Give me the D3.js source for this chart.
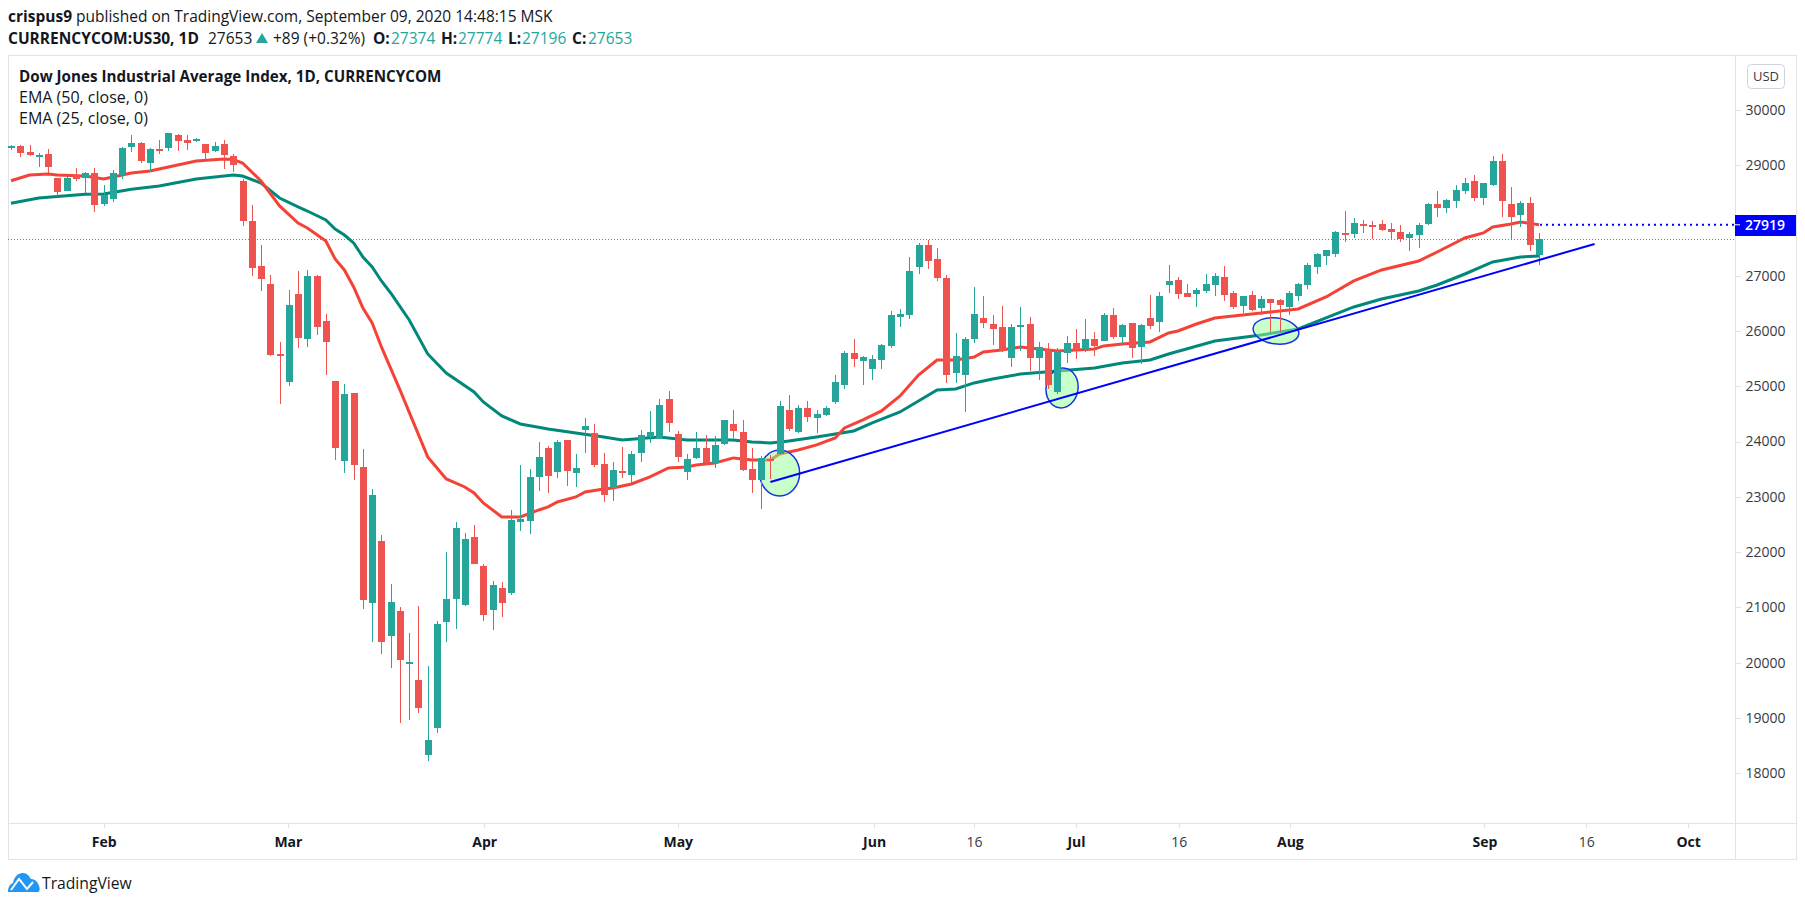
<!DOCTYPE html>
<html>
<head>
<meta charset="utf-8">
<script src="https://d3js.org/d3.v7.min.js"></script>
<style>
body { margin: 0; background: #fff; }
svg { display: block; }
text { font-family: "Open Sans", sans-serif; fill: #131722; }
.frame { fill: none; stroke: #e0e3eb; stroke-width: 1; shape-rendering: crispEdges; }
.axis .domain { display: none; }
.axis line { stroke: #e0e3eb; shape-rendering: crispEdges; }
.axis text { font-size: 14px; fill: #363a45; }
.time .major { font-weight: 700; fill: #131722; }
.wick, .body { shape-rendering: crispEdges; }
</style>
</head>
<body>
<svg id="chart" width="1805" height="906"></svg>
<script>
// daily candles, oldest first
var open = [29313,29343,29235,29150,29199,28765,28530,28819,28770,28855,28300,28391,28819,29331,29398,29036,29289,29313,29542,29452,29447,29380,29253,29380,29163,28711,27987,27174,26848,25583,25077,26668,25854,26993,26180,25095,23648,24878,23540,21081,22202,20484,20936,19978,19689,18333,18821,20737,21153,21045,22274,21750,20954,21352,21262,22545,22563,23359,23883,23449,24028,23431,24209,24155,23594,23160,23467,23395,23793,24082,24064,24769,24136,23449,23703,23883,23612,23956,24317,24173,23504,23305,23690,23775,24570,24173,24606,24426,24480,24715,25022,25601,25456,25312,25474,25728,26252,26288,27156,27554,27300,26957,25239,25203,25854,26234,26125,26071,25510,26071,26125,25510,25673,24896,25601,25782,25673,25854,25818,26288,25890,26143,25709,26234,26161,26830,26921,26686,26668,26722,26830,26975,26686,26451,26650,26415,26577,26559,26433,26632,26830,27156,27355,27391,27771,27752,27933,27915,27933,27843,27789,27680,27734,27933,28295,28223,28349,28530,28711,28403,28638,29072,28295,28096,28313,27374];
var high = [29362,29362,29362,29211,29289,28765,28837,28946,28879,28946,28638,28910,29325,29542,29416,29307,29452,29579,29560,29542,29494,29380,29416,29452,29199,28747,28277,27554,27011,25800,26740,27084,27102,27011,26306,25095,25040,24878,23865,23142,22310,21424,21009,20539,21027,19942,20755,22003,22545,22346,22491,21786,21479,21461,22762,23576,23504,23992,23919,24028,24028,23775,24426,24317,23793,23630,23901,23829,24209,24552,24769,24914,24191,23775,24173,24118,24100,24390,24570,24390,23883,23739,23757,24733,24842,24661,24733,24570,24643,25203,25637,25854,25547,25565,25764,26360,26396,27337,27590,27644,27499,27011,25962,25890,26794,26632,26288,26451,26125,26433,26252,25800,25782,25691,25908,26035,26216,25981,26324,26415,26125,26143,26125,26650,26704,27192,26975,26848,26776,27029,27047,27174,26722,26632,26722,26632,26577,26577,26722,26866,27228,27409,27463,27807,28168,28042,28006,27987,28006,27951,27915,27789,27951,28313,28530,28385,28638,28765,28819,28675,29163,29199,28602,28349,28421,27774];
var low = [29271,29145,29168,28970,28850,28445,28530,28716,28488,28150,28264,28337,28752,29240,29036,28873,29199,29259,29259,29271,29416,29108,29235,28928,28873,27897,26993,26722,25547,24679,25004,25691,25709,25926,25203,23666,23431,23305,20972,20376,20159,19906,18911,18966,19092,18224,18731,20376,20611,21027,21786,20755,20593,20828,21226,22383,22328,23106,23070,23341,23196,23178,23793,23540,22907,22925,23341,23250,23630,23974,24064,24173,23630,23305,23684,23576,23522,23938,24064,23467,23070,22780,23323,23775,24191,24155,24353,24155,24462,24679,24950,25348,25022,25113,25312,25691,26071,26216,27029,27120,26903,25059,25059,24534,25782,26053,25746,25619,25348,25637,25276,25113,24950,24860,25420,25492,25619,25547,25818,25854,25764,25510,25402,26035,25981,26686,26577,26613,26433,26686,26632,26541,26396,26324,26360,26288,25981,25981,26288,26541,26758,27029,27192,27337,27608,27680,27771,27662,27807,27644,27608,27445,27499,27915,28060,28132,28223,28476,28349,28277,28620,28060,27662,27879,27445,27196];
var close = [29349,29217,29181,29186,28970,28518,28765,28747,28855,28282,28458,28855,29307,29398,29072,29289,29271,29579,29439,29403,29465,29217,29343,29186,29000,27987,27143,26939,25565,25547,26469,25872,26993,26071,25800,23883,24860,23576,21135,23034,20376,21099,20050,20014,19183,18604,20701,21153,22437,22238,21786,20864,21406,21081,22582,22600,23359,23721,23377,23992,23467,23522,24281,23576,23034,23486,23440,23775,24118,24173,24661,24335,23721,23684,23883,23612,23938,24390,24191,23486,23305,23703,23666,24643,24227,24606,24444,24498,24606,25077,25601,25492,25528,25492,25746,26288,26306,27084,27554,27264,26957,25203,25547,25854,26306,26143,26035,25637,26071,26107,25510,25709,25022,25637,25782,25655,25854,25728,26288,25890,26107,25691,26107,26089,26632,26903,26668,26613,26740,26848,26993,26650,26433,26632,26378,26577,26505,26469,26686,26848,27192,27391,27463,27789,27752,27951,27897,27879,27825,27789,27662,27752,27915,28295,28223,28367,28548,28675,28403,28675,29072,28349,28060,28313,27554,27653];

// moving averages, read at the bars where the curves bend
var ema25Bars = [0,2,4,5,8,10,11,13,15,17,20,23,24,25,27,29,31,32,34,35,36,37,38,39,40,42,45,47,49,50,51,53,55,57,58,59,61,62,64,65,67,69,71,73,74,76,78,80,82,83,85,87,89,90,92,94,96,98,100,102,104,105,107,109,111,113,115,117,118,120,123,125,126,128,130,133,136,139,142,145,148,152,154,157,159,160,162,163,165];
var ema25Values = [28716,28819,28837,28819,28801,28747,28783,28855,28892,28964,29072,29108,29099,29036,28711,28259,27951,27861,27626,27300,27102,26794,26415,26143,25710,24932,23721,23323,23178,23070,22889,22636,22636,22762,22817,22907,22997,23088,23142,23160,23232,23359,23522,23540,23576,23612,23703,23666,23666,23775,23847,23938,24064,24245,24390,24552,24824,25203,25474,25474,25528,25619,25655,25709,25673,25637,25655,25673,25728,25764,25800,25962,25999,26125,26234,26288,26342,26396,26613,26903,27102,27264,27427,27680,27771,27879,27933,27969,27919];
var ema50Bars = [0,3,8,10,13,16,20,24,25,27,29,31,32,34,35,36,37,38,39,40,41,43,45,47,50,51,53,55,58,61,64,66,70,73,78,80,82,84,87,89,91,93,96,100,102,104,106,109,113,117,120,123,125,130,135,139,142,145,148,152,154,157,160,163,165];
var ema50Values = [28307,28403,28470,28476,28561,28620,28747,28819,28801,28675,28403,28241,28168,28006,27843,27734,27590,27337,27156,26903,26686,26198,25583,25239,24896,24715,24462,24317,24227,24155,24082,24028,24082,24028,24028,23992,23974,24010,24082,24136,24191,24335,24534,24932,24950,25059,25131,25221,25276,25330,25420,25474,25583,25818,25926,26035,26234,26433,26577,26722,26830,27029,27246,27337,27355];

// drawn trend line and the three marked touches
var trendBars = [82,171];
var trendPrices = [23269,27572];
var touchBars = [83,113.5,136.6];
var touchPrices = [23431,24968,25999];

var priceTicks = [18000,19000,20000,21000,22000,23000,24000,25000,26000,27000,29000,30000];
var timeTickBars = [10,29.9,51.1,72,93.2,104,115,126.1,138.1,159.1,170.1,181.1];
var timeTickLabels = ["Feb","Mar","Apr","May","Jun","16","Jul","16","Aug","Sep","16","Oct"];

var lastClose = 27653;
var ema25Last = 27919;

var plotLeft = 8, plotRight = 1735, plotTop = 55, plotBottom = 823;

var svg = d3.select("#chart");
var x = d3.scaleLinear().domain([0,165]).range([11,1539]);
var y = d3.scaleLinear().domain([18000,30000]).range([773.3,109.7]);

var up = "#26a69a", down = "#ef5350";

svg.append("defs").append("clipPath").attr("id","plot")
  .append("rect").attr("x",plotLeft).attr("y",plotTop).attr("width",plotRight-plotLeft).attr("height",plotBottom-plotTop);

// frame
svg.append("rect").attr("class","frame").attr("x",plotLeft+.5).attr("y",plotTop+.5).attr("width",1796-plotLeft).attr("height",859-plotTop);
svg.append("line").attr("class","frame").attr("x1",plotRight+.5).attr("x2",plotRight+.5).attr("y1",plotTop).attr("y2",859);
svg.append("line").attr("class","frame").attr("x1",plotLeft).attr("x2",1796).attr("y1",plotBottom+.5).attr("y2",plotBottom+.5);

var plot = svg.append("g").attr("clip-path","url(#plot)");

// last price line
plot.append("line").attr("x1",plotLeft).attr("x2",plotRight)
  .attr("y1",y(lastClose)).attr("y2",y(lastClose))
  .attr("stroke",up).attr("stroke-width",1).attr("stroke-dasharray","1 2");

var line = d3.line().x(function(d){ return x(d[0]); }).y(function(d){ return y(d[1]); });

plot.append("path").datum(d3.zip(ema50Bars,ema50Values)).attr("d",line)
  .attr("fill","none").attr("stroke","#00897b").attr("stroke-width",3);
plot.append("path").datum(d3.zip(ema25Bars,ema25Values)).attr("d",line)
  .attr("fill","none").attr("stroke","#f44336").attr("stroke-width",3);

// touch markers sit over the averages but under the candles
var touchSize = [[20,23,0],[16,20,8],[23,13,8]];
plot.selectAll(".touch").data(d3.zip(touchBars,touchPrices,touchSize)).enter().append("ellipse")
  .attr("class","touch")
  .attr("rx",function(d){ return d[2][0]; })
  .attr("ry",function(d){ return d[2][1]; })
  .attr("transform",function(d){ return "translate("+x(d[0])+","+y(d[1])+") rotate("+d[2][2]+")"; })
  .attr("fill","rgba(147,255,147,.5)").attr("stroke","#1a35e0").attr("stroke-width",1.5);

// candles
var bars = d3.range(open.length);
plot.selectAll(".wick").data(bars).enter().append("rect")
  .attr("class","wick")
  .attr("x",function(i){ return Math.round(x(i)); })
  .attr("width",1)
  .attr("y",function(i){ return y(high[i]); })
  .attr("height",function(i){ return y(low[i])-y(high[i]); })
  .attr("fill",function(i){ return close[i]>=open[i] ? up : down; });
plot.selectAll(".body").data(bars).enter().append("rect")
  .attr("class","body")
  .attr("x",function(i){ return Math.round(x(i))-3; })
  .attr("width",7)
  .attr("y",function(i){ return y(Math.max(open[i],close[i])); })
  .attr("height",function(i){ return Math.max(2,Math.abs(y(open[i])-y(close[i]))); })
  .attr("fill",function(i){ return close[i]>=open[i] ? up : down; });

// trend line
plot.append("path").datum(d3.zip(trendBars,trendPrices)).attr("d",line)
  .attr("fill","none").attr("stroke","#0000ff").attr("stroke-width",2);

// EMA 25 last value line
svg.append("line").attr("x1",x(165)+1).attr("x2",plotRight)
  .attr("y1",y(ema25Last)).attr("y2",y(ema25Last))
  .attr("stroke","#0000ff").attr("stroke-width",2).attr("stroke-dasharray","2 4");

// axes
var priceAxis = d3.axisRight(y).tickValues(priceTicks).tickSize(5).tickPadding(5).tickFormat(d3.format("d"));
svg.append("g").attr("class","axis price").attr("transform","translate("+(plotRight+.5)+",0)").call(priceAxis);

var timeAxis = d3.axisBottom(x).tickValues(timeTickBars).tickSize(4).tickPadding(10)
  .tickFormat(function(d,i){ return timeTickLabels[i]; });
var timeG = svg.append("g").attr("class","axis time").attr("transform","translate(0,"+(plotBottom+.5)+")").call(timeAxis);
timeG.selectAll("text").classed("major",function(d,i){ return timeTickLabels[i] != "16"; });

// blue price label
svg.append("rect").attr("x",plotRight).attr("y",215).attr("width",61).attr("height",21).attr("fill","#0000ff");
svg.append("line").attr("x1",plotRight).attr("x2",plotRight+5).attr("y1",y(ema25Last)).attr("y2",y(ema25Last)).attr("stroke","#fff");
svg.append("text").attr("x",plotRight+10).attr("y",y(ema25Last)+5).text(ema25Last)
  .style("fill","#fff").style("font-size","14px").style("font-weight",600);

// currency box
svg.append("rect").attr("x",1747.5).attr("y",64.5).attr("width",37).attr("height",24).attr("rx",4)
  .attr("fill","#fff").attr("stroke","#d1d4dc");
svg.append("text").attr("x",1766).attr("y",81).attr("text-anchor","middle").text("USD").style("font-size","13px").style("fill","#363a45");

// header
svg.append("text").attr("x",8).attr("y",22).style("font-size","15.5px")
  .html('<tspan font-weight="700">crispus9</tspan> published on TradingView.com, September 09, 2020 14:48:15 MSK');

var headerBits = [
  ["CURRENCYCOM:US30, 1D",8,true,false],["27653",208,false,false],["+89 (+0.32%)",273,false,false],
  ["O:",373,true,false],["27374",391,false,true],["H:",441,true,false],["27774",458,false,true],
  ["L:",508,true,false],["27196",522,false,true],["C:",572,true,false],["27653",588,false,true]
];
svg.selectAll(".hdr").data(headerBits).enter().append("text").attr("class","hdr")
  .attr("x",function(d){ return d[1]; }).attr("y",44).text(function(d){ return d[0]; })
  .style("font-size",function(d){ return d[2] ? "15.5px" : "15.5px"; })
  .style("font-weight",function(d){ return d[2] ? 700 : 400; })
  .style("fill",function(d){ return d[3] ? up : "#131722"; });
svg.append("path").attr("d","M256 43 L262 33 L268 43 Z").attr("fill",up);

// legend
svg.append("text").attr("x",19).attr("y",82).text("Dow Jones Industrial Average Index, 1D, CURRENCYCOM").style("font-size","15.2px").style("font-weight",700);
svg.append("text").attr("x",19).attr("y",103).text("EMA (50, close, 0)").style("font-size","16px");
svg.append("text").attr("x",19).attr("y",124).text("EMA (25, close, 0)").style("font-size","16px");

// logo
var logo = svg.append("g").attr("transform","translate(8,873)");
logo.append("path").attr("fill","#2196f3")
  .attr("d","M0 19 C0 14 2 11 5 10 C6 4 10 0 15 0 C19 0 21 3 23 6 C27 6 30 9 31 13 C32 15 32 19 30 19 Z");
logo.append("path").attr("fill","none").attr("stroke","#fff").attr("stroke-width",2)
  .attr("d","M3 17 L11 6 L19 16 L25 9");
svg.append("text").attr("x",42).attr("y",889).text("TradingView").style("font-size","15.7px");
</script>
</body>
</html>
